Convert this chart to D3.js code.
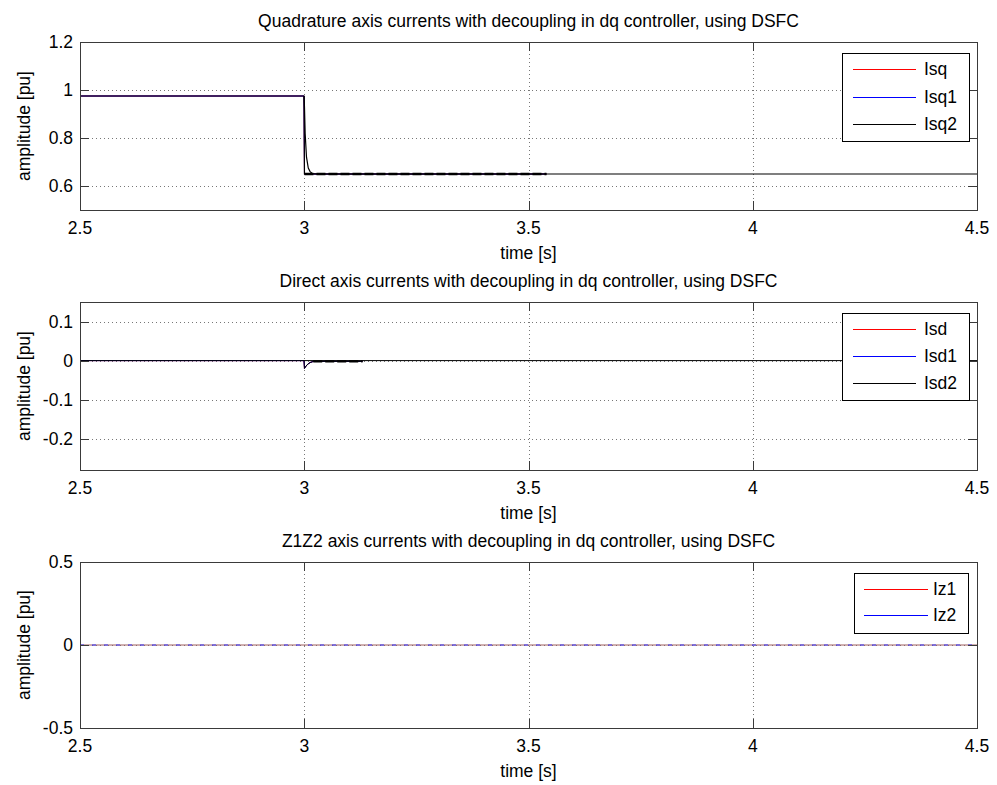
<!DOCTYPE html>
<html><head><meta charset="utf-8">
<script src="https://cdn.jsdelivr.net/npm/d3@7"></script>
<style>
body{margin:0;background:#fff}
svg{display:block}
text{font-family:"Liberation Sans",Arial,Helvetica,sans-serif;font-size:17.5px;fill:#000}
</style>
</head><body>
<svg id="chart" width="997" height="785"></svg>
<script>
// ---------------- DATA ----------------
const xDomain = [2.5, 4.5];
const xTicks = [2.5, 3, 3.5, 4, 4.5];
const xTickLabels = ["2.5", "3", "3.5", "4", "4.5"];
const xLabel = "time [s]";
const yLabel = "amplitude [pu]";

// Panel 1: quadrature axis
const qTitle = "Quadrature axis currents with decoupling in dq controller, using DSFC";
const qYDomain = [0.5, 1.2];
const qYTicks = [0.6, 0.8, 1.0, 1.2];
const qYTickLabels = ["0.6", "0.8", "1", "1.2"];
const isqTime  = [2.5, 2.9995, 3.0005, 3.02, 3.54];
const isqVal   = [0.975, 0.975, 0.65, 0.65, 0.65];
const isq1Time = [2.5, 2.9995, 3.0005, 3.02, 3.54];
const isq1Val  = [0.975, 0.975, 0.65, 0.65, 0.65];
const isq2Time = [2.5, 2.9995, 3.0005, 3.002, 3.005, 3.009, 3.013, 3.018, 3.03, 4.5];
const isq2Val  = [0.975, 0.975, 0.93, 0.82, 0.72, 0.675, 0.66, 0.652, 0.65, 0.65];
const qLegend = ["Isq", "Isq1", "Isq2"];

// Panel 2: direct axis
const dTitle = "Direct axis currents with decoupling in dq controller, using DSFC";
const dYDomain = [-0.28, 0.15];
const dYTicks = [-0.2, -0.1, 0, 0.1];
const dYTickLabels = ["-0.2", "-0.1", "0", "0.1"];
const isdTime  = [2.5, 2.9995, 3.0005, 3.004, 3.008, 3.013, 3.018, 3.02, 3.13];
const isdVal   = [0, 0, -0.02, -0.014, -0.009, -0.005, -0.003, -0.002, -0.002];
const isd1Time = [2.5, 2.9995, 3.0005, 3.004, 3.008, 3.013, 3.018, 3.02, 3.13];
const isd1Val  = [0, 0, -0.02, -0.014, -0.009, -0.005, -0.003, -0.002, -0.002];
const isd2Time = [2.5, 4.5];
const isd2Val  = [0, 0];
const dLegend = ["Isd", "Isd1", "Isd2"];

// Panel 3: Z1Z2 axis
const zTitle = "Z1Z2 axis currents with decoupling in dq controller, using DSFC";
const zYDomain = [-0.5, 0.5];
const zYTicks = [-0.5, 0, 0.5];
const zYTickLabels = ["-0.5", "0", "0.5"];
const izTime = [2.5, 4.5];
const iz1Val = [0, 0];
const iz2Val = [0, 0];
const zLegend = ["Iz1", "Iz2"];

// ---------------- DRAWING ----------------
const svg = d3.select("#chart");
const left = 80, right = 977;
const x = d3.scaleLinear().domain(xDomain).range([left, right]);
const toPts = (t, v) => t.map((d, i) => ({t: d, v: v[i]}));

function panel(cfg) {
  const y = d3.scaleLinear().domain(cfg.yDomain).range([cfg.bottom, cfg.top]);
  const g = svg.append("g");
  // grid
  const gx = xTicks.filter(t => t > xDomain[0] && t < xDomain[1]);
  const gy = cfg.yTicks.filter(t => t > cfg.yDomain[0] && t < cfg.yDomain[1]);
  g.selectAll(".gx").data(gx).join("line")
    .attr("x1", d => Math.round(x(d)) + 0.5).attr("x2", d => Math.round(x(d)) + 0.5)
    .attr("y1", cfg.top).attr("y2", cfg.bottom)
    .style("stroke", "#777").style("stroke-dasharray", "1,3");
  g.selectAll(".gy").data(gy).join("line")
    .attr("y1", d => Math.round(y(d)) + 0.5).attr("y2", d => Math.round(y(d)) + 0.5)
    .attr("x1", left).attr("x2", right)
    .style("stroke", "#777").style("stroke-dasharray", "1,3");

  // series
  const line = d3.line().x(d => x(d.t)).y(d => y(d.v));
  cfg.series.forEach(s => {
    g.append("path").datum(toPts(s.t, s.v))
      .attr("d", line).style("fill", "none")
      .style("stroke", s.color).style("stroke-width", s.w || 1)
      .style("stroke-dasharray", s.dash || null);
  });

  // axes (inward ticks on all sides)
  const tk = 9;
  const axB = g.append("g").attr("transform", `translate(0,${cfg.bottom})`)
    .call(d3.axisBottom(x).tickValues(xTicks).tickSize(-tk).tickSizeOuter(0).tickFormat(""));
  const axT = g.append("g").attr("transform", `translate(0,${cfg.top})`)
    .call(d3.axisTop(x).tickValues(xTicks).tickSize(-tk).tickSizeOuter(0).tickFormat(""));
  const axL = g.append("g").attr("transform", `translate(${left},0)`)
    .call(d3.axisLeft(y).tickValues(cfg.yTicks).tickSize(-tk).tickSizeOuter(0).tickFormat(""));
  const axR = g.append("g").attr("transform", `translate(${right},0)`)
    .call(d3.axisRight(y).tickValues(cfg.yTicks).tickSize(-tk).tickSizeOuter(0).tickFormat(""));
  [axB, axT, axL, axR].forEach(a => {
    a.selectAll("path,line").style("stroke", "#3a3a3a").attr("shape-rendering", "crispEdges");
  });

  // tick labels
  g.selectAll(".xl").data(xTicks).join("text")
    .attr("x", d => x(d)).attr("y", cfg.bottom + 18)
    .attr("text-anchor", "middle").attr("dominant-baseline", "central")
    .text((d, i) => xTickLabels[i]);
  g.selectAll(".yl").data(cfg.yTicks).join("text")
    .attr("x", left - 7).attr("y", d => y(d))
    .attr("text-anchor", "end").attr("dominant-baseline", "central")
    .text((d, i) => cfg.yTickLabels[i]);

  // axis labels & title
  g.append("text").attr("x", (left + right) / 2).attr("y", cfg.bottom + 43)
    .attr("text-anchor", "middle").attr("dominant-baseline", "central").text(xLabel);
  g.append("text").attr("transform", `translate(24,${(cfg.top + cfg.bottom) / 2}) rotate(-90)`)
    .attr("text-anchor", "middle").attr("dominant-baseline", "central").text(yLabel);
  g.append("text").attr("x", (left + right) / 2).attr("y", cfg.top - 21)
    .attr("text-anchor", "middle").attr("dominant-baseline", "central").text(cfg.title);

  // legend
  const L = cfg.legend;
  const lg = g.append("g");
  lg.append("rect").attr("x", L.x + 0.5).attr("y", L.y + 0.5).attr("width", L.w).attr("height", L.h)
    .style("fill", "#fff").style("stroke", "#000");
  L.items.forEach((it, i) => {
    const cy = L.y + L.first + i * L.step;
    lg.append("line").attr("x1", L.x + L.lx0).attr("x2", L.x + L.lx1)
      .attr("y1", Math.round(cy) + 0.5).attr("y2", Math.round(cy) + 0.5)
      .attr("shape-rendering", "crispEdges")
      .style("stroke", it.color).style("stroke-width", 1.2);
    lg.append("text").attr("x", L.x + L.tx).attr("y", cy)
      .attr("dominant-baseline", "central").text(it.label);
  });
}

// segments of the measured series from the step onward (drawn in black as in the source plot)
const isqSeg = isqTime.map((t, i) => i).filter(i => isqTime[i] >= 2.9995);
const isqDash = isqTime.map((t, i) => i).filter(i => isqTime[i] >= 3.0005);
const isdSeg = isdTime.map((t, i) => i).filter(i => isdTime[i] >= 2.9995);
const isdDash = isdTime.map((t, i) => i).filter(i => isdTime[i] >= 3.02);

panel({
  title: qTitle, top: 42, bottom: 210, yDomain: qYDomain, yTicks: qYTicks, yTickLabels: qYTickLabels,
  series: [
    {t: isqTime, v: isqVal, color: "#ff0000"},
    {t: isq1Time, v: isq1Val, color: "#0000ff"},
    {t: isq2Time, v: isq2Val, color: "#000", w: 1.2},
    {t: isqSeg.map(i => isqTime[i]), v: isqSeg.map(i => isqVal[i]), color: "#000", w: 1.2},
    {t: isqDash.map(i => isqTime[i]), v: isqDash.map(i => isqVal[i]), color: "#000", w: 2.6, dash: "9,3"}
  ],
  legend: {x: 842, y: 53, w: 127, h: 88, first: 16, step: 27.5, lx0: 11, lx1: 74, tx: 82,
    items: [{label: qLegend[0], color: "#ff0000"}, {label: qLegend[1], color: "#0000ff"}, {label: qLegend[2], color: "#000"}]}
});

panel({
  title: dTitle, top: 302, bottom: 470, yDomain: dYDomain, yTicks: dYTicks, yTickLabels: dYTickLabels,
  series: [
    {t: isdTime, v: isdVal, color: "#ff0000"},
    {t: isd1Time, v: isd1Val, color: "#0000ff"},
    {t: isd2Time, v: isd2Val, color: "#000"},
    {t: isdSeg.map(i => isdTime[i]), v: isdSeg.map(i => isdVal[i]), color: "#000", w: 1},
    {t: isdDash.map(i => isdTime[i]), v: isdDash.map(i => isdVal[i]), color: "#000", w: 2.4, dash: "9,3"}
  ],
  legend: {x: 842, y: 313, w: 127, h: 87, first: 16, step: 27, lx0: 11, lx1: 74, tx: 82,
    items: [{label: dLegend[0], color: "#ff0000"}, {label: dLegend[1], color: "#0000ff"}, {label: dLegend[2], color: "#000"}]}
});

panel({
  title: zTitle, top: 562, bottom: 728, yDomain: zYDomain, yTicks: zYTicks, yTickLabels: zYTickLabels,
  series: [
    {t: izTime, v: iz1Val, color: "#a06060"},
    {t: izTime, v: iz2Val, color: "#3333ff", dash: "4,8"}
  ],
  legend: {x: 854, y: 573, w: 114, h: 60, first: 16, step: 26, lx0: 10, lx1: 74, tx: 79,
    items: [{label: zLegend[0], color: "#ff0000"}, {label: zLegend[1], color: "#0000ff"}]}
});
</script>
</body></html>
